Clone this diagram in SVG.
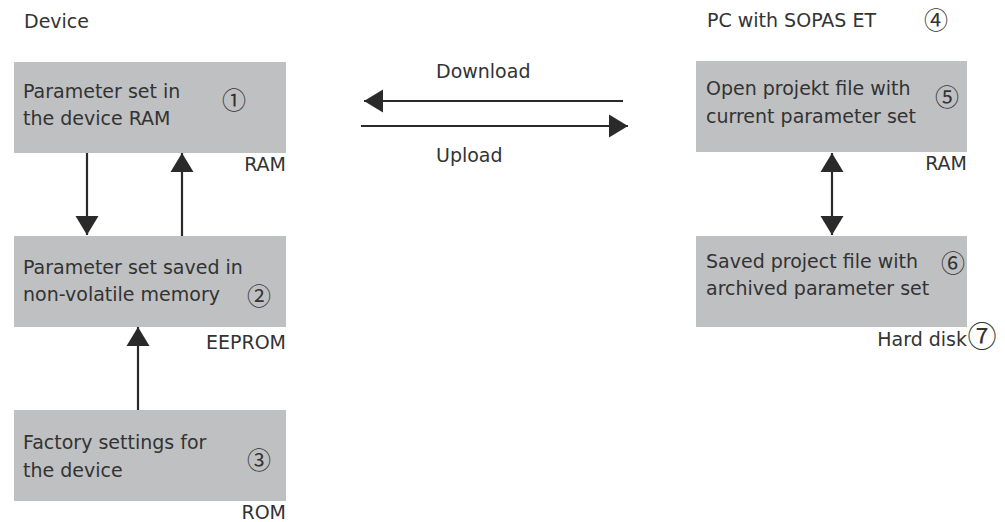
<svg xmlns="http://www.w3.org/2000/svg" width="1005" height="522" viewBox="0 0 1005 522">
<style>
.box{fill:#bfc0c2}
text{font-family:"DejaVu Sans","Liberation Sans",sans-serif;font-size:19px;fill:#333}
.num{font-family:"Noto Sans CJK JP","DejaVu Sans",sans-serif;font-size:24px;text-anchor:middle}
.r{text-anchor:end}
.ln{stroke:#2a2a2a;stroke-width:2.2;fill:none}
</style>
<defs>
<marker id="ah" markerUnits="userSpaceOnUse" markerWidth="20" markerHeight="24" refX="19" refY="12" orient="auto-start-reverse" viewBox="0 0 20 24">
<path d="M0,0.5 L19,12 L0,23.5 Z" fill="#2a2a2a"/>
</marker>
</defs>
<rect width="1005" height="522" fill="#fff"/>
<text x="24" y="28">Device</text>
<text x="707" y="27">PC with SOPAS ET</text>
<text class="num" x="936" y="29">④</text>
<g id="n1">
<rect class="box" x="14" y="62" width="272" height="91"/>
<text x="23" y="98">Parameter set in</text>
<text x="23" y="125">the device RAM</text>
<text class="num" x="234" y="109">①</text>
<text class="r" x="286" y="171">RAM</text>
</g>
<g id="n2">
<rect class="box" x="14" y="236" width="272" height="91"/>
<text x="23" y="274">Parameter set saved in</text>
<text x="23" y="301">non-volatile memory</text>
<text class="num" x="259" y="305">②</text>
<text class="r" x="286" y="349">EEPROM</text>
</g>
<g id="n3">
<rect class="box" x="14" y="410" width="272" height="91"/>
<text x="23" y="449">Factory settings for</text>
<text x="23" y="477">the device</text>
<text class="num" x="259" y="469">③</text>
<text class="r" x="286" y="519">ROM</text>
</g>
<g id="n5">
<rect class="box" x="696" y="61" width="271" height="91"/>
<text x="706" y="95">Open projekt file with</text>
<text x="706" y="123">current parameter set</text>
<text class="num" x="947" y="106">⑤</text>
<text class="r" x="967" y="170">RAM</text>
</g>
<g id="n6">
<rect class="box" x="696" y="236" width="271" height="91"/>
<text x="706" y="268">Saved project file with</text>
<text x="706" y="295">archived parameter set</text>
<text class="num" x="953" y="272">⑥</text>
<text class="r" x="967" y="346">Hard disk</text>
<text class="num" x="982" y="347" style="font-size:29px">⑦</text>
</g>
<g id="connectors">
<line class="ln" x1="87" y1="153" x2="87" y2="235" marker-end="url(#ah)"/>
<line class="ln" x1="182" y1="236" x2="182" y2="153" marker-end="url(#ah)"/>
<line class="ln" x1="138" y1="410" x2="138" y2="327" marker-end="url(#ah)"/>
<line class="ln" x1="623" y1="101" x2="364" y2="101" marker-end="url(#ah)"/>
<line class="ln" x1="361" y1="126" x2="628" y2="126" marker-end="url(#ah)"/>
<line class="ln" x1="832" y1="153" x2="832" y2="235" marker-start="url(#ah)" marker-end="url(#ah)"/>
<text x="436" y="78">Download</text>
<text x="436" y="162">Upload</text>
</g>
</svg>
